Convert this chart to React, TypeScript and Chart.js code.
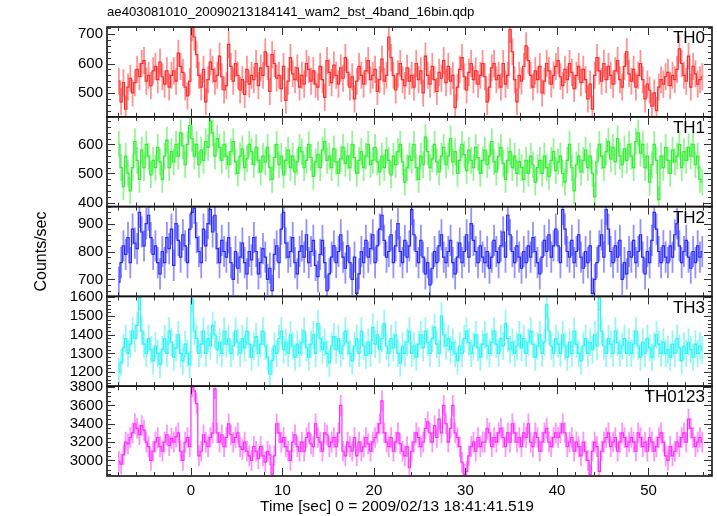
import React, { useEffect, useRef } from "react";
import { Chart, registerables } from "chart.js";

Chart.register(...registerables);

const TITLE = "ae403081010_20090213184141_wam2_bst_4band_16bin.qdp";
const X_TITLE = "Time [sec] 0 = 2009/02/13 18:41:41.519";
const Y_TITLE = "Counts/sec";
const BAND_LABELS = ["TH0", "TH1", "TH2", "TH3", "TH0123"];

const T_START = -8;
const BIN = 0.25;

const TH0 = [
  540, 470, 535, 445, 520, 550, 500, 535, 580, 555, 600, 610, 540, 560, 525, 575,
  590, 545, 605, 555, 530, 575, 520, 560, 575, 540, 635, 590, 570, 520, 490, 540,
  722, 690, 630, 560, 520, 580, 470, 545, 605, 580, 540, 560, 625, 555, 510, 525,
  665, 590, 540, 600, 560, 510, 545, 495, 580, 530, 560, 545, 600, 525, 585, 560,
  640, 590, 505, 630, 600, 550, 560, 515, 590, 475, 540, 620, 565, 545, 585, 520,
  560, 530, 600, 580, 540, 575, 530, 520, 590, 545, 485, 610, 570, 535, 595, 560,
  530, 585, 550, 620, 570, 520, 555, 480, 540, 590, 560, 530, 575, 610, 545, 560,
  580, 505, 545, 615, 540, 560, 690, 620, 560, 510, 565, 600, 545, 525, 585, 540,
  560, 520, 600, 545, 575, 500, 625, 560, 530, 590, 545, 505, 570, 550, 610, 535,
  590, 540, 560, 450, 520, 580, 620, 555, 510, 570, 600, 545, 575, 530, 560, 600,
  555, 470, 520, 585, 600, 545, 560, 520, 600, 530, 560, 715, 640, 545, 470, 560,
  540, 590, 660, 610, 560, 520, 575, 545, 590, 500, 540, 600, 575, 530, 560, 590,
  610, 555, 525, 580, 545, 600, 570, 515, 560, 590, 535, 580, 545, 480, 530, 445,
  560, 620, 575, 540, 600, 545, 590, 560, 530, 575, 610, 545, 520, 590, 640, 565,
  540, 580, 520, 560, 600, 545, 480, 530, 510, 455, 500, 440, 520, 545, 530, 555,
  570, 525, 560, 545, 580, 650, 600, 560, 540, 625, 520, 590, 565, 530, 545, 555,
];

const TH1 = [
  600, 520, 455, 560, 500, 440, 520, 610, 545, 480, 580, 520, 600, 560, 495, 545,
  520, 590, 540, 480, 560, 615, 520, 575, 540, 600, 560, 640, 595, 530, 600, 665,
  620, 560, 600, 530, 580, 545, 610, 590, 680, 640, 560, 620, 590, 545, 600, 560,
  530, 575, 610, 540, 500, 560, 585, 520, 550, 600, 575, 530, 590, 545, 505, 560,
  540, 590, 520, 480, 555, 600, 530, 560, 495, 545, 580, 520, 560, 505, 540, 590,
  575, 520, 545, 600, 555, 490, 540, 565, 520, 580, 610, 545, 560, 520, 585, 540,
  500, 550, 590, 535, 560, 520, 600, 555, 500, 545, 575, 520, 560, 600, 530, 545,
  590, 540, 505, 560, 520, 580, 545, 495, 560, 530, 575, 600, 540, 470, 520, 560,
  545, 600, 520, 480, 560, 530, 625, 575, 520, 550, 600, 540, 505, 560, 590, 530,
  560, 620, 540, 575, 500, 545, 600, 565, 510, 580, 545, 520, 590, 555, 500, 545,
  580, 530, 560, 610, 540, 505, 560, 590, 535, 480, 545, 575, 520, 560, 500, 540,
  520, 480, 545, 500, 560, 530, 470, 520, 545, 500, 560, 520, 490, 545, 575, 510,
  540, 560, 500, 470, 545, 600, 520, 440, 530, 560, 505, 545, 580, 520, 560, 500,
  420, 540, 600, 560, 520, 575, 610, 550, 590, 540, 620, 560, 530, 585, 545, 600,
  560, 520, 610, 640, 570, 600, 520, 560, 470, 530, 600, 545, 410, 560, 520, 590,
  545, 500, 580, 540, 560, 600, 520, 575, 545, 590, 560, 600, 530, 560, 480, 470,
];

const TH2 = [
  690, 760, 820, 790, 850, 760, 880, 830, 810, 940, 870, 820, 900, 930, 850, 790,
  820, 760, 720, 800, 760, 850, 810, 880, 750, 900, 840, 780, 860, 820, 760, 880,
  940, 955, 850, 800, 760, 880, 820, 900, 950, 870, 930, 810, 760, 840, 800, 780,
  850, 760, 700, 800, 740, 780, 830, 760, 720, 800, 770, 850, 800, 720, 760, 810,
  780, 700, 740, 660, 790, 820, 760, 880, 940, 830, 780, 800, 850, 760, 720, 800,
  820, 780, 860, 760, 800, 840, 750, 710, 790, 840, 760, 660, 720, 780, 820, 760,
  800, 860, 780, 740, 820, 760, 700, 780, 650, 720, 800, 760, 840, 780, 810, 860,
  760, 820, 880, 930, 840, 780, 800, 860, 760, 820, 900, 800, 760, 840, 780, 820,
  950, 860, 800, 760, 840, 780, 720, 760, 680, 740, 800, 760, 820, 860, 780, 760,
  800, 840, 760, 720, 780, 830, 760, 800, 860, 780, 900, 840, 800, 760, 820, 780,
  760, 800, 740, 780, 840, 800, 760, 820, 870, 780, 930, 860, 800, 760, 820, 780,
  740, 800, 760, 820, 780, 850, 800, 760, 720, 780, 840, 800, 860, 780, 820, 880,
  820, 760, 950, 880, 800, 780, 840, 760, 800, 860, 780, 740, 800, 760, 820, 650,
  700, 760, 820, 860, 780, 950, 880, 800, 760, 820, 780, 840, 700, 760, 720, 800,
  780, 840, 760, 800, 860, 780, 720, 800, 760, 840, 940, 880, 800, 760, 820, 780,
  760, 820, 780, 860, 900, 820, 760, 800, 840, 780, 740, 800, 760, 820, 780, 800,
];

const TH3 = [
  1200, 1250, 1330, 1380, 1300, 1350, 1420, 1380, 1450, 1600, 1420, 1350, 1300, 1380, 1320, 1260,
  1340, 1300, 1240, 1320, 1380, 1300, 1420, 1360, 1280, 1330, 1400, 1300, 1260, 1350, 1300, 1240,
  1590, 1420, 1380, 1300, 1350, 1420, 1300, 1380, 1340, 1450, 1400, 1320, 1360, 1300, 1420, 1350,
  1380, 1300, 1340, 1420, 1360, 1300, 1380, 1330, 1420, 1350, 1280, 1340, 1390, 1300, 1350, 1420,
  1340, 1280, 1190, 1260, 1340, 1300, 1380, 1420, 1320, 1360, 1300, 1400, 1340, 1280, 1350, 1300,
  1360, 1420, 1330, 1280, 1350, 1400, 1300, 1460, 1380, 1320, 1360, 1300, 1250, 1340, 1390, 1320,
  1380, 1300, 1340, 1420, 1360, 1300, 1260, 1340, 1380, 1300, 1420, 1340, 1290, 1360, 1300, 1440,
  1350, 1400, 1320, 1380, 1460, 1340, 1300, 1380, 1330, 1400, 1300, 1250, 1340, 1300, 1360, 1420,
  1300, 1340, 1280, 1350, 1400, 1330, 1420, 1360, 1300, 1380, 1440, 1350, 1300, 1500, 1400, 1340,
  1380, 1320, 1360, 1300, 1260, 1340, 1300, 1380, 1420, 1360, 1300, 1340, 1400, 1330, 1280, 1350,
  1400, 1340, 1300, 1360, 1420, 1350, 1300, 1380, 1340, 1460, 1380, 1320, 1360, 1300, 1340, 1400,
  1330, 1380, 1300, 1360, 1420, 1350, 1280, 1340, 1400, 1300, 1360, 1560, 1420, 1340, 1300, 1380,
  1350, 1300, 1400, 1340, 1280, 1360, 1300, 1420, 1350, 1300, 1260, 1340, 1380, 1300, 1360, 1320,
  1400, 1340, 1600, 1420, 1340, 1300, 1380, 1350, 1300, 1420, 1360, 1300, 1340, 1380, 1300, 1360,
  1300, 1350, 1420, 1340, 1280, 1360, 1300, 1380, 1330, 1280, 1340, 1400, 1350, 1300, 1360, 1300,
  1320, 1280, 1350, 1300, 1380, 1330, 1260, 1340, 1300, 1360, 1320, 1280, 1350, 1300, 1340, 1320,
];

const TH0123 = [
  2990, 2960, 3060, 3200, 3180, 3250, 3300, 3400, 3350, 3280, 3380, 3330, 3200, 3150, 3000, 3100,
  3200, 3250, 3150, 3100, 3200, 3280, 3160, 3240, 3200, 3260, 3300, 3100, 3000, 3200, 3250, 3150,
  3800, 3760, 3620, 3050, 3100, 3280, 3200, 3150, 3250, 3300, 3780, 3300, 3200, 3280, 3150, 3250,
  3400, 3280, 3200, 3250, 3300, 3150, 3120, 3200, 3100, 3050, 3000, 3150, 3100, 3020, 3150, 3050,
  2980, 3100, 3060, 2850, 3050, 3400, 3300, 3200, 3250, 3150, 3100, 3000, 3200, 3280, 3150, 3100,
  3200, 3100, 3250, 3300, 3180, 3150, 3400, 3250, 3200, 3100, 3300, 3280, 3150, 3200, 3250, 3150,
  3300, 3600, 3100, 3050, 3200, 3150, 3100, 3250, 3050, 3200, 3100, 3150, 3250, 3180, 3100, 3200,
  3250, 3300, 3400, 3650, 3300, 3200, 3150, 3250, 3100, 3200, 3300, 3180, 3100, 3050, 3150, 2920,
  3100, 3200, 3300, 3250, 3150, 3200, 3350, 3420, 3300, 3200, 3380, 3250, 3450, 3300, 3600, 3400,
  3200, 3350, 3600, 3300, 3250, 3150, 2980, 2850, 2880, 3050, 3150, 3200, 3100, 3250, 3150, 3200,
  3200, 3350, 3300, 3150, 3250, 3200, 3300, 3350, 3250, 3150, 3300, 3200, 3400, 3300, 3200, 3250,
  3150, 3300, 3250, 3400, 3200, 3150, 3300, 3250, 3100, 3200, 3300, 3350, 3200, 3150, 3250, 3300,
  3250, 3300, 3400, 3300, 3150, 3200, 3250, 3100, 3200, 3150, 3050, 3200, 3100, 3000, 2850, 3100,
  3200, 3150, 2880, 3100, 3200, 3250, 3300, 3150, 3200, 3250, 3100, 3200, 3300, 3250, 3150, 3200,
  3250, 3200, 3100, 3300, 3250, 3150, 3200, 3100, 3250, 3200, 3100, 3150, 3250, 3300, 3200, 3050,
  3000, 3150, 3050, 3100, 3200, 3150, 3250, 3300, 3200, 3450, 3350, 3250, 3150, 3200, 3250, 3200,
];

const SERIES = [TH0, TH1, TH2, TH3, TH0123];
const ERR = [46, 46, 56, 73, 113];
const Y_MIN = [419, 386, 639, 1125, 2830];
const Y_MAX = [724, 695, 961, 1605, 3810];
const Y_TICKS = [
  [500, 600, 700],
  [400, 500, 600],
  [700, 800, 900],
  [1200, 1300, 1400, 1500, 1600],
  [3000, 3200, 3400, 3600, 3800],
];
const Y_MINOR = [20, 20, 20, 20, 50];
const X_MIN = -9.17;
const X_MAX = 56.94;
const X_TICKS = [0, 10, 20, 30, 40, 50];
const X_MINOR = 2;

const LINE_COLORS = ["#ff2a2a", "#2ef02e", "#2a2aff", "#2af5f5", "#ff2aff"];
const BAR_COLORS = [
  "rgba(255,40,40,0.5)",
  "rgba(40,235,40,0.5)",
  "rgba(40,40,255,0.5)",
  "rgba(40,240,240,0.5)",
  "rgba(255,40,255,0.5)",
];

const FONT = "'Liberation Sans', Arial, Helvetica, sans-serif";
const LEFT = 107;
const RIGHT_PAD = 5;
const TOP = 27;
const BOTTOM_H = 40;

const panelPlugin = {
  id: "qdpPanels",
  beforeDatasetDraw(chart: any, args: any) {
    const p = args.index;
    const meta = args.meta;
    const ys = chart.scales[meta.yAxisID];
    const ca = chart.chartArea;
    const ctx = chart.ctx;
    ctx.save();
    ctx.beginPath();
    ctx.rect(ca.left, ys.top, ca.right - ca.left, ys.bottom - ys.top);
    ctx.clip();
    const data = chart.data.datasets[p].data;
    ctx.strokeStyle = BAR_COLORS[p];
    ctx.lineWidth = 1.8;
    ctx.beginPath();
    meta.data.forEach((pt: any, i: number) => {
      const v = data[i].y;
      ctx.moveTo(pt.x, ys.getPixelForValue(v + ERR[p]));
      ctx.lineTo(pt.x, ys.getPixelForValue(v - ERR[p]));
    });
    ctx.stroke();
  },
  afterDatasetDraw(chart: any) {
    chart.ctx.restore();
  },
  afterDraw(chart: any) {
    const ctx = chart.ctx;
    const ca = chart.chartArea;
    const xs = chart.scales.x;
    ctx.save();
    for (let p = 0; p < SERIES.length; p++) {
      const ys = chart.scales["y" + p];
      const top = ys.top;
      const bottom = ys.bottom;
      ctx.strokeStyle = "#111";
      ctx.lineWidth = 1.6;
      ctx.strokeRect(ca.left, top, ca.right - ca.left, bottom - top);
      ctx.lineWidth = 1;
      ctx.strokeStyle = "#333";
      ctx.beginPath();
      const y0 = Math.ceil(Y_MIN[p] / Y_MINOR[p]) * Y_MINOR[p];
      for (let v = y0; v <= Y_MAX[p]; v += Y_MINOR[p]) {
        const major = Y_TICKS[p].includes(v);
        const len = major ? 8 : 4;
        const y = Math.round(ys.getPixelForValue(v)) + 0.5;
        ctx.moveTo(ca.left, y);
        ctx.lineTo(ca.left + len, y);
        ctx.moveTo(ca.right, y);
        ctx.lineTo(ca.right - len, y);
      }
      const x0 = Math.ceil(X_MIN / X_MINOR) * X_MINOR;
      for (let t = x0; t <= X_MAX; t += X_MINOR) {
        const major = X_TICKS.includes(t);
        const len = major ? 8 : 4;
        const x = Math.round(xs.getPixelForValue(t)) + 0.5;
        ctx.moveTo(x, top);
        ctx.lineTo(x, top + len);
        ctx.moveTo(x, bottom);
        ctx.lineTo(x, bottom - len);
      }
      ctx.stroke();
      ctx.fillStyle = "#000";
      ctx.font = "17px " + FONT;
      ctx.textAlign = "right";
      ctx.textBaseline = "top";
      ctx.fillText(BAND_LABELS[p], ca.right - 7, top + 3);
    }
    ctx.fillStyle = "#000";
    ctx.font = "13.2px " + FONT;
    ctx.textAlign = "left";
    ctx.textBaseline = "middle";
    ctx.fillText(TITLE, ca.left, 12);

    ctx.font = "15.5px " + FONT;
    ctx.textAlign = "center";
    ctx.textBaseline = "middle";
    ctx.fillText(X_TITLE, 397, 507);

    ctx.save();
    ctx.translate(42, (ca.top + ca.bottom) / 2);
    ctx.rotate(-Math.PI / 2);
    ctx.textAlign = "center";
    ctx.textBaseline = "middle";
    ctx.font = "16px " + FONT;
    ctx.fillText(Y_TITLE, 0, 0);
    ctx.restore();
    ctx.restore();
  },
};

export default function App() {
  const ref = useRef<HTMLCanvasElement | null>(null);
  useEffect(() => {
    if (!ref.current) return;
    Chart.defaults.font.family = FONT;
    Chart.defaults.color = "#000";
    const datasets = SERIES.map((vals, p) => ({
      label: BAND_LABELS[p],
      data: vals.map((v, i) => ({ x: T_START + (i + 0.5) * BIN, y: v })),
      yAxisID: "y" + p,
      xAxisID: "x",
      borderColor: LINE_COLORS[p],
      borderWidth: 1.2,
      pointRadius: 0,
      stepped: "middle" as const,
      fill: false,
    }));
    const scales: any = {
      x: {
        type: "linear",
        position: "bottom",
        min: X_MIN,
        max: X_MAX,
        grid: { display: false, drawTicks: false },
        border: { display: false },
        afterBuildTicks: (s: any) => {
          s.ticks = X_TICKS.map((v) => ({ value: v }));
        },
        ticks: {
          padding: 6,
          font: { size: 15 },
          color: "#000",
          maxRotation: 0,
          autoSkip: false,
          callback: (v: any) => String(v),
        },
        title: { display: false },
        afterFit: (s: any) => {
          s.height = BOTTOM_H;
        },
      },
    };
    for (let p = SERIES.length - 1; p >= 0; p--) {
      const idx = p;
      scales["y" + p] = {
        type: "linear",
        position: "left",
        stack: "panels",
        stackWeight: 1,
        min: Y_MIN[p],
        max: Y_MAX[p],
        grid: { display: false, drawTicks: false },
        border: { display: false },
        afterBuildTicks: (s: any) => {
          s.ticks = Y_TICKS[idx].map((v) => ({ value: v }));
        },
        ticks: {
          padding: 4,
          font: { size: 15 },
          color: "#000",
          autoSkip: false,
          callback: (v: any) => String(v),
        },
        afterFit: (s: any) => {
          s.width = LEFT;
        },
      };
    }
    const chart = new Chart(ref.current, {
      type: "line",
      data: { datasets },
      options: {
        animation: false,
        responsive: false,
        events: [],
        layout: { padding: { left: 0, right: RIGHT_PAD, top: TOP, bottom: 0 } },
        plugins: { legend: { display: false }, tooltip: { enabled: false }, title: { display: false } },
        scales,
      },
      plugins: [panelPlugin],
    } as any);
    return () => chart.destroy();
  }, []);
  return (
    <div style={{ position: "absolute", left: 0, top: 0, width: 717, height: 516, background: "#fff" }}>
      <canvas ref={ref} width={717} height={516} style={{ display: "block" }} />
    </div>
  );
}
